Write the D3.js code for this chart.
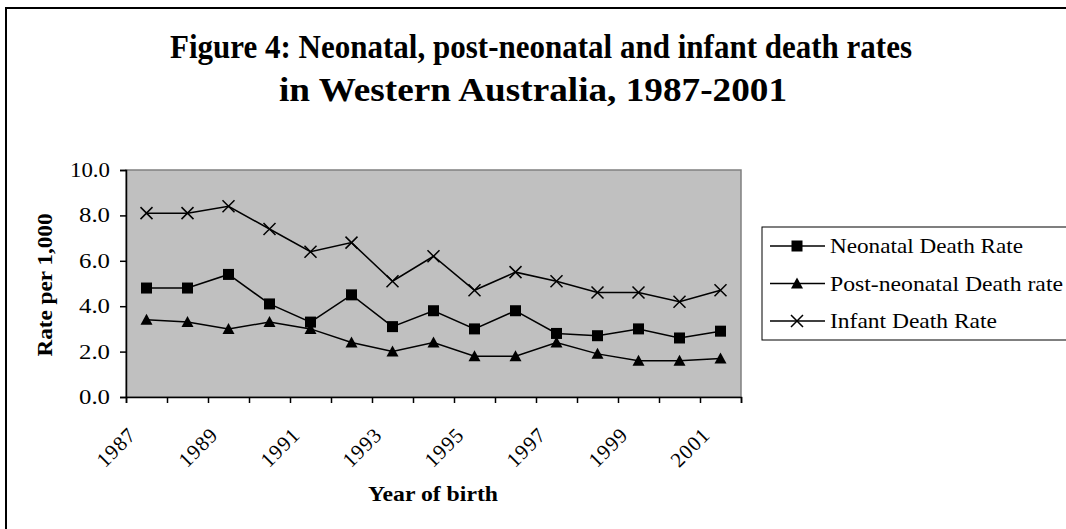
<!DOCTYPE html>
<html>
<head>
<meta charset="utf-8">
<script src="https://cdn.jsdelivr.net/npm/d3@7"></script>
<style>
  body { margin: 0; background: #fff; }
  svg { display: block; }
  text { font-family: "Times New Roman", "Liberation Serif", serif; fill: #000; }
</style>
</head>
<body>
<svg id="chart" width="1066" height="529"></svg>
<script>
var years = [1987, 1988, 1989, 1990, 1991, 1992, 1993, 1994, 1995, 1996, 1997, 1998, 1999, 2000, 2001];
var neonatal = [4.8, 4.8, 5.4, 4.1, 3.3, 4.5, 3.1, 3.8, 3.0, 3.8, 2.8, 2.7, 3.0, 2.6, 2.9];
var postNeonatal = [3.4, 3.3, 3.0, 3.3, 3.0, 2.4, 2.0, 2.4, 1.8, 1.8, 2.4, 1.9, 1.6, 1.6, 1.7];
var infant = [8.1, 8.1, 8.4, 7.4, 6.4, 6.8, 5.1, 6.2, 4.7, 5.5, 5.1, 4.6, 4.6, 4.2, 4.7];
var yTicks = [0, 2, 4, 6, 8, 10];
var xLabels = ["1987", "1989", "1991", "1993", "1995", "1997", "1999", "2001"];

var seriesNames = ["Neonatal Death Rate", "Post-neonatal Death rate", "Infant Death Rate"];
var seriesShapes = ["square", "triangle", "cross"];
var seriesValues = [neonatal, postNeonatal, infant];

var svg = d3.select("#chart");

// outer chart border (right and bottom run off the page)
svg.append("rect")
    .attr("x", 6).attr("y", 8)
    .attr("width", 1100).attr("height", 560)
    .attr("fill", "none")
    .attr("stroke", "#000")
    .attr("stroke-width", 2);

var plot = {left: 126, top: 170, right: 741, bottom: 397};

var x = d3.scaleBand()
    .domain(years)
    .range([plot.left, plot.right])
    .padding(0);

var xEdge = d3.scaleLinear()
    .domain([0, years.length])
    .range([plot.left, plot.right]);

var y = d3.scaleLinear()
    .domain([0, 10])
    .range([plot.bottom, plot.top]);

function cx(i) { return x(years[i]) + x.bandwidth() / 2; }

// title
var title = svg.append("g");
title.append("text")
    .attr("x", 541).attr("y", 58)
    .attr("text-anchor", "middle")
    .attr("font-size", 33).attr("font-weight", "bold")
    .attr("textLength", 742).attr("lengthAdjust", "spacingAndGlyphs")
    .text("Figure 4: Neonatal, post-neonatal and infant death rates");
title.append("text")
    .attr("x", 533).attr("y", 101)
    .attr("text-anchor", "middle")
    .attr("font-size", 33).attr("font-weight", "bold")
    .attr("textLength", 508).attr("lengthAdjust", "spacingAndGlyphs")
    .text("in Western Australia, 1987-2001");

// plot background
svg.append("rect")
    .attr("x", plot.left).attr("y", plot.top)
    .attr("width", plot.right - plot.left)
    .attr("height", plot.bottom - plot.top)
    .attr("fill", "#c0c0c0")
    .attr("stroke", "#808080")
    .attr("stroke-width", 1.5);

// y axis
var yAxis = svg.append("g")
    .attr("transform", "translate(" + plot.left + ",0)")
    .call(d3.axisLeft(y).tickValues(yTicks).tickFormat(d3.format(".1f")).tickSize(6).tickPadding(10));
yAxis.select(".domain").attr("stroke", "#000").attr("stroke-width", 1.5);
yAxis.selectAll(".tick line").attr("stroke", "#000").attr("stroke-width", 1.5);
yAxis.selectAll(".tick text")
    .attr("font-family", "'Times New Roman', 'Liberation Serif', serif")
    .attr("font-size", 20)
    .attr("textLength", function(d) { return d >= 10 ? 40 : 31; })
    .attr("lengthAdjust", "spacingAndGlyphs");

// x axis ticks at category edges
var xAxis = svg.append("g")
    .attr("transform", "translate(0," + plot.bottom + ")")
    .call(d3.axisBottom(xEdge).tickValues(d3.range(years.length + 1)).tickFormat("").tickSize(6));
xAxis.select(".domain").attr("stroke", "#000").attr("stroke-width", 1.5);
xAxis.selectAll(".tick line").attr("stroke", "#000").attr("stroke-width", 1.5);

// rotated year labels
svg.append("g").selectAll("text")
    .data(xLabels)
    .enter().append("text")
    .attr("transform", function(d) {
        var px = x(+d) + x.bandwidth() / 2 - 9;
        return "translate(" + px + ",436) rotate(-45)";
    })
    .attr("text-anchor", "end")
    .attr("font-size", 21)
    .attr("letter-spacing", 1)
    .text(function(d) { return d; });

// axis titles
svg.append("text")
    .attr("x", 433).attr("y", 501)
    .attr("text-anchor", "middle")
    .attr("font-size", 21).attr("font-weight", "bold")
    .attr("textLength", 130).attr("lengthAdjust", "spacingAndGlyphs")
    .text("Year of birth");

svg.append("text")
    .attr("transform", "translate(52,285) rotate(-90)")
    .attr("text-anchor", "middle")
    .attr("font-size", 21).attr("font-weight", "bold")
    .attr("textLength", 143).attr("lengthAdjust", "spacingAndGlyphs")
    .text("Rate per 1,000");

// markers
function drawMarker(g, shape, px, py) {
    if (shape == "square") {
        g.append("rect")
            .attr("x", px - 5.5).attr("y", py - 5.5)
            .attr("width", 11).attr("height", 11)
            .attr("fill", "#000");
    } else if (shape == "triangle") {
        g.append("path")
            .attr("d", "M" + px + "," + (py - 6) + "L" + (px + 6) + "," + (py + 5) + "L" + (px - 6) + "," + (py + 5) + "Z")
            .attr("fill", "#000");
    } else {
        g.append("path")
            .attr("d", "M" + (px - 6) + "," + (py - 6) + "L" + (px + 6) + "," + (py + 6) +
                "M" + (px + 6) + "," + (py - 6) + "L" + (px - 6) + "," + (py + 6))
            .attr("stroke", "#000")
            .attr("stroke-width", 1.5);
    }
}

var line = d3.line()
    .x(function(d, i) { return cx(i); })
    .y(function(d) { return y(d); });

seriesValues.forEach(function(vals, s) {
    var g = svg.append("g");
    g.append("path")
        .datum(vals)
        .attr("d", line)
        .attr("fill", "none")
        .attr("stroke", "#000")
        .attr("stroke-width", 1.5);
    vals.forEach(function(v, i) {
        drawMarker(g, seriesShapes[s], cx(i), y(v));
    });
});

// legend
var legend = svg.append("g");
legend.append("rect")
    .attr("x", 762).attr("y", 227)
    .attr("width", 400).attr("height", 113)
    .attr("fill", "#fff")
    .attr("stroke", "#000")
    .attr("stroke-width", 1);

var legendRows = [246, 283.5, 321];
var legendWidths = [193, 233, 167];
seriesNames.forEach(function(name, s) {
    var ly = legendRows[s];
    legend.append("line")
        .attr("x1", 770).attr("x2", 825)
        .attr("y1", ly).attr("y2", ly)
        .attr("stroke", "#000")
        .attr("stroke-width", 1.5);
    drawMarker(legend, seriesShapes[s], 797, ly);
    legend.append("text")
        .attr("x", 830).attr("y", ly + 7)
        .attr("font-size", 21)
        .attr("textLength", legendWidths[s]).attr("lengthAdjust", "spacingAndGlyphs")
        .text(name);
});
</script>
</body>
</html>
